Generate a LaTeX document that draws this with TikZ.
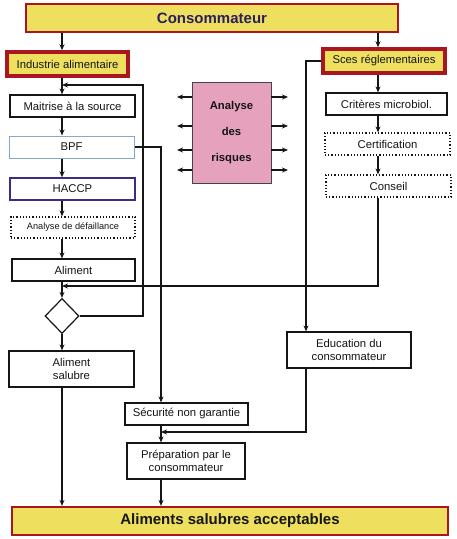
\documentclass[tikz,border=0pt]{standalone}
\usepackage{fontspec}
\setmainfont{Liberation Sans}
\usetikzlibrary{arrows.meta,shapes.geometric,calc}
\definecolor{jaune}{HTML}{EEE05E}
\definecolor{rouge}{HTML}{A8171F}
\definecolor{rose}{HTML}{E6A2BC}
\definecolor{navy}{HTML}{2A1E5C}
\definecolor{bleuclair}{HTML}{86A9CC}
\definecolor{violet}{HTML}{3B2C86}
\definecolor{encre}{HTML}{151515}
\begin{document}
\begin{tikzpicture}[x=1pt,y=-1pt,
  base/.style={inner sep=0pt, align=center, text=encre, font=\fontsize{11.3}{13}\selectfont},
  box/.style={base, draw=encre, fill=white, line width=1.2pt},
  dotbox/.style={base, draw=encre, fill=white, line width=1.2pt, dotted},
  bluebox/.style={base, draw=bleuclair, fill=white, line width=1pt},
  purplebox/.style={base, draw=violet, fill=white, line width=1.5pt},
  headbox/.style={base, draw=rouge, fill=jaune, line width=1.8pt, text=navy, font=\fontsize{15}{17}\bfseries},
  thickbox/.style={base, draw=rouge, fill=jaune, line width=3.5pt},
  pinkbox/.style={base, draw=encre!80, fill=rose, line width=0.9pt, font=\fontsize{11.3}{26}\bfseries},
  arr/.style={draw=encre, line width=1.3pt, -{Stealth[length=6pt,width=5pt]}},
  ln/.style={draw=encre, line width=1.3pt}
]
\useasboundingbox (0,0) rectangle (456,539);

% column coordinates
\coordinate (colL) at (62,0);
\coordinate (colR) at (378,0);
\coordinate (colM) at (161,0);
\coordinate (colE) at (306,0);
\coordinate (colF) at (143,0);

% nodes
\node[headbox, minimum width=372pt, minimum height=28pt] (cons) at (212,18) {Consommateur};
\node[thickbox, minimum width=121pt, minimum height=24pt] (ind) at (67.5,64) {Industrie alimentaire};
\node[thickbox, minimum width=122pt, minimum height=24pt] (sces) at (384,61) {Sces réglementaires};
\node[box, minimum width=125pt, minimum height=22pt] (mait) at (72.5,106) {Maitrise à la source};
\node[bluebox, minimum width=125pt, minimum height=22pt] (bpf) at (71.5,147) {BPF};
\node[purplebox, minimum width=125pt, minimum height=22pt] (haccp) at (72.5,189) {HACCP};
\node[dotbox, minimum width=124pt, minimum height=21pt, font=\fontsize{9.2}{11}\selectfont] (ana) at (73,227.5) {Analyse de défaillance};
\node[box, minimum width=123pt, minimum height=22pt] (alim) at (73.5,270) {Aliment};
\node[draw=encre, fill=white, line width=1.2pt, diamond, inner sep=0pt, minimum width=34pt, minimum height=35pt] (diam) at (62,316) {};
\node[box, minimum width=125pt, minimum height=36pt] (sal) at (71.5,369) {Aliment\\salubre};
\node[pinkbox, minimum width=79pt, minimum height=101pt] (pink) at (231.5,132.5) {Analyse\\des\\risques};
\node[box, minimum width=121pt, minimum height=22pt] (crit) at (386.5,104) {Critères microbiol.};
\node[dotbox, minimum width=125pt, minimum height=22pt] (cert) at (387.5,144) {Certification};
\node[dotbox, minimum width=125pt, minimum height=22pt] (cnsl) at (388.5,186) {Conseil};
\node[box, minimum width=124pt, minimum height=36pt] (educ) at (349,350) {Education du\\consommateur};
\node[box, minimum width=123pt, minimum height=22pt] (secu) at (186.5,414) {Sécurité non garantie};
\node[box, minimum width=118pt, minimum height=36pt] (prep) at (186,461) {Préparation par le\\consommateur};
\node[headbox, line width=2.2pt, text=encre, minimum width=436pt, minimum height=28pt] (fin) at (230,521) {Aliments salubres acceptables};

% left column
\draw[arr] (cons.south -| colL) -- (ind.north -| colL);
\draw[arr] (ind.south -| colL) -- (mait.north -| colL);
\draw[arr] (mait.south -| colL) -- (bpf.north -| colL);
\draw[arr] (bpf.south -| colL) -- (haccp.north -| colL);
\draw[arr] (haccp.south -| colL) -- (ana.north -| colL);
\draw[arr] (ana.south -| colL) -- (alim.north -| colL);
\draw[arr] (alim.south -| colL) -- (diam.north);
\draw[arr] (diam.south) -- (sal.north -| colL);
\draw[arr] (sal.south -| colL) -- (fin.north -| colL);

% feedback loop from diamond
\coordinate (fb) at (62,85);
\draw[arr] (diam.east) -- (diam.east -| colF) -- (colF |- fb) -- (fb);

% BPF branch
\draw[arr] (bpf.east) -- (bpf.east -| colM) -- (secu.north -| colM);
\draw[arr] (secu.south -| colM) -- (prep.north -| colM);
\draw[arr] (prep.south -| colM) -- (fin.north -| colM);

% right column
\draw[arr] (cons.south -| colR) -- (sces.north -| colR);
\draw[arr] (sces.south -| colR) -- (crit.north -| colR);
\draw[arr] (crit.south -| colR) -- (cert.north -| colR);
\draw[arr] (cert.south -| colR) -- (cnsl.north -| colR);
\coordinate (ret) at (62,286);
\draw[arr] (cnsl.south -| colR) -- (colR |- ret) -- (ret);

% education branch
\draw[arr] (sces.west) -- (sces.west -| colE) -- (educ.north -| colE);
\coordinate (edret) at (161,432);
\draw[arr] (educ.south -| colE) -- (colE |- edret) -- (edret);

% pink box arrows
\foreach \yy [count=\i] in {97,126,150,170} {
  \coordinate (pl\i) at (177,\yy);
  \coordinate (pr\i) at (288,\yy);
  \draw[arr] (pink.west |- pl\i) -- (pl\i);
  \draw[arr] (pink.east |- pr\i) -- (pr\i);
}
\end{tikzpicture}
\end{document}
